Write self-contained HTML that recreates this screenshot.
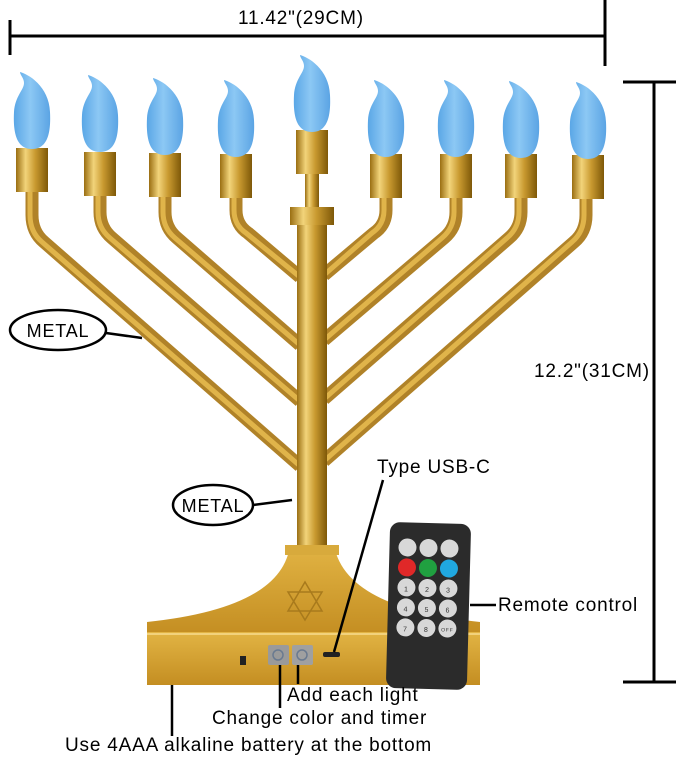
<!DOCTYPE html>
<html><head><meta charset="utf-8"><style>
html,body{margin:0;padding:0;background:#fff;}
svg{display:block;font-family:"Liberation Sans",sans-serif;}
text{letter-spacing:0.8px;}
</style></head><body>
<svg width="679" height="759" viewBox="0 0 679 759" xmlns="http://www.w3.org/2000/svg">
<defs>
<linearGradient id="bulb" x1="0" x2="1" y1="0" y2="0">
<stop offset="0" stop-color="#5aa6e6"/><stop offset="0.45" stop-color="#8cc8f4"/><stop offset="1" stop-color="#5ba4e4"/></linearGradient>
<linearGradient id="gold" x1="0" x2="1" y1="0" y2="0">
<stop offset="0" stop-color="#9a6e12"/><stop offset="0.3" stop-color="#f2d47a"/><stop offset="0.6" stop-color="#c99a30"/><stop offset="1" stop-color="#7e5808"/></linearGradient>
<linearGradient id="base" x1="0" x2="0" y1="0" y2="1">
<stop offset="0" stop-color="#e2b444"/><stop offset="1" stop-color="#c48e22"/></linearGradient>
<g id="b"><path d="M-12,0 C-4,2 17,14 18,40 C19,60 16,77 0,77 C-16,77 -19,60 -18,40 C-17,24 -8,18 -8,11 C-8,6 -12,3 -12,0 Z" fill="url(#bulb)"/></g>
<g id="c"><rect x="-16" y="0" width="32" height="44" fill="url(#gold)"/></g>
</defs>

<line x1="10" y1="36" x2="605" y2="36" stroke="#000" stroke-width="3"/>
<line x1="10" y1="20" x2="10" y2="55" stroke="#000" stroke-width="3"/>
<line x1="605" y1="0" x2="605" y2="66" stroke="#000" stroke-width="3"/>
<text x="238" y="24" font-size="19">11.42"(29CM)</text>
<line x1="654" y1="82" x2="654" y2="682" stroke="#000" stroke-width="3"/>
<line x1="623" y1="82" x2="676" y2="82" stroke="#000" stroke-width="3"/>
<line x1="623" y1="682" x2="676" y2="682" stroke="#000" stroke-width="3"/>
<text x="534" y="377" font-size="19">12.2"(31CM)</text>

<g fill="none" stroke-linejoin="round">
<g stroke="#b08228" stroke-width="13">
<path d="M32,190 L32,215 Q32,232 44,242 L300,466"/>
<path d="M100,195 L100,212 Q100,228 112,238 L300,401"/>
<path d="M165,195 L165,212 Q165,228 177,238 L300,345"/>
<path d="M236,195 L236,210 Q236,225 248,233 L300,277"/>
<path d="M386,195 L386,210 Q386,225 374,233 L324,275"/>
<path d="M456,195 L456,212 Q456,228 444,238 L324,340"/>
<path d="M521,195 L521,212 Q521,228 509,238 L324,399"/>
<path d="M586,190 L586,215 Q586,232 574,242 L324,461"/>
</g>
<g stroke="#e0b44a" stroke-width="5">
<path d="M30,190 L30,215 Q30,232 42,242 L300,466"/>
<path d="M98,195 L98,212 Q98,228 110,238 L300,401"/>
<path d="M163,195 L163,212 Q163,228 175,238 L300,345"/>
<path d="M234,195 L234,210 Q234,225 246,233 L300,277"/>
<path d="M384,195 L384,210 Q384,225 372,233 L324,275"/>
<path d="M454,195 L454,212 Q454,228 442,238 L324,340"/>
<path d="M519,195 L519,212 Q519,228 507,238 L324,399"/>
<path d="M584,190 L584,215 Q584,232 572,242 L324,461"/>
</g></g>

<rect x="305" y="174" width="14" height="36" fill="url(#gold)"/>
<rect x="297" y="222" width="30" height="340" fill="url(#gold)"/>
<rect x="290" y="207" width="44" height="18" fill="url(#gold)"/>

<use href="#c" x="32" y="148"/><use href="#b" x="32" y="72"/>
<use href="#c" x="100" y="152"/><use href="#b" x="100" y="75"/>
<use href="#c" x="165" y="153"/><use href="#b" x="165" y="78"/>
<use href="#c" x="236" y="154"/><use href="#b" x="236" y="80"/>
<use href="#c" x="312" y="130"/><use href="#b" x="312" y="55"/>
<use href="#c" x="386" y="154"/><use href="#b" x="386" y="80"/>
<use href="#c" x="456" y="154"/><use href="#b" x="456" y="80"/>
<use href="#c" x="521" y="154"/><use href="#b" x="521" y="81"/>
<use href="#c" x="588" y="155"/><use href="#b" x="588" y="82"/>

<path d="M290,545 L334,545 Q345,608 480,622 L480,634 L147,634 L147,622 Q282,608 290,545 Z" fill="url(#base)"/>
<rect x="285" y="545" width="54" height="10" fill="#d8aa3c"/>
<rect x="147" y="632" width="333" height="53" fill="url(#base)"/>
<line x1="147" y1="634" x2="480" y2="634" stroke="#f2d27c" stroke-width="2"/>
<g fill="none" stroke="#a87a1c" stroke-width="1.5">
<polygon points="305,582 322,611 288,611"/><polygon points="305,620 322,592 288,592"/>
</g>
<rect x="268" y="645" width="21" height="20" rx="2" fill="#9a9a9a"/>
<rect x="292" y="645" width="21" height="20" rx="2" fill="#a0a0a0"/>
<circle cx="278" cy="655" r="5" fill="none" stroke="#6a7a90" stroke-width="1.5"/>
<circle cx="302" cy="655" r="5" fill="none" stroke="#6a7a90" stroke-width="1.5"/>
<rect x="323" y="652" width="17" height="5" rx="2" fill="#222"/>
<rect x="240" y="656" width="6" height="9" fill="#222"/>

<g transform="rotate(1.5 428 605)">
<rect x="388" y="523" width="81" height="166" rx="10" fill="#2b2b2b"/>
<g fill="#d8d8d8">
<circle cx="406" cy="548" r="9"/><circle cx="427" cy="548" r="9"/><circle cx="448" cy="548" r="9"/>
<circle cx="406" cy="568" r="9" fill="#e02828"/><circle cx="427" cy="568" r="9" fill="#20a040"/><circle cx="448" cy="568" r="9" fill="#20a8e0"/>
<circle cx="406" cy="588" r="9"/><circle cx="427" cy="588" r="9"/><circle cx="448" cy="588" r="9"/>
<circle cx="406" cy="608" r="9"/><circle cx="427" cy="608" r="9"/><circle cx="448" cy="608" r="9"/>
<circle cx="406" cy="628" r="9"/><circle cx="427" cy="628" r="9"/><circle cx="448" cy="628" r="9"/>
</g>
<g font-size="7" fill="#333" text-anchor="middle" style="letter-spacing:0">
<text x="406" y="592">1</text><text x="427" y="592">2</text><text x="448" y="592">3</text>
<text x="406" y="612">4</text><text x="427" y="612">5</text><text x="448" y="612">6</text>
<text x="406" y="632">7</text><text x="427" y="632">8</text><text x="448" y="631" font-size="5">OFF</text>
</g>
</g>

<ellipse cx="58" cy="330" rx="48" ry="20" fill="none" stroke="#000" stroke-width="2.5"/>
<text x="58" y="337" font-size="18" text-anchor="middle">METAL</text>
<line x1="106" y1="333" x2="142" y2="338" stroke="#000" stroke-width="2.5"/>
<ellipse cx="213" cy="505" rx="40" ry="20" fill="none" stroke="#000" stroke-width="2.5"/>
<text x="213" y="512" font-size="18" text-anchor="middle">METAL</text>
<line x1="253" y1="505" x2="292" y2="500" stroke="#000" stroke-width="2.5"/>
<text x="377" y="473" font-size="19">Type USB-C</text>
<line x1="383" y1="480" x2="334" y2="652" stroke="#000" stroke-width="2.5"/>
<line x1="470" y1="605" x2="496" y2="605" stroke="#000" stroke-width="2.5"/>
<text x="498" y="611" font-size="19">Remote control</text>
<line x1="280" y1="665" x2="280" y2="708" stroke="#000" stroke-width="2.5"/>
<line x1="298" y1="665" x2="298" y2="684" stroke="#000" stroke-width="2.5"/>
<line x1="172" y1="685" x2="172" y2="736" stroke="#000" stroke-width="2.5"/>
<text x="287" y="701" font-size="19">Add each light</text>
<text x="212" y="724" font-size="19">Change color and timer</text>
<text x="65" y="751" font-size="19">Use 4AAA alkaline battery at the bottom</text>
</svg>
</body></html>
